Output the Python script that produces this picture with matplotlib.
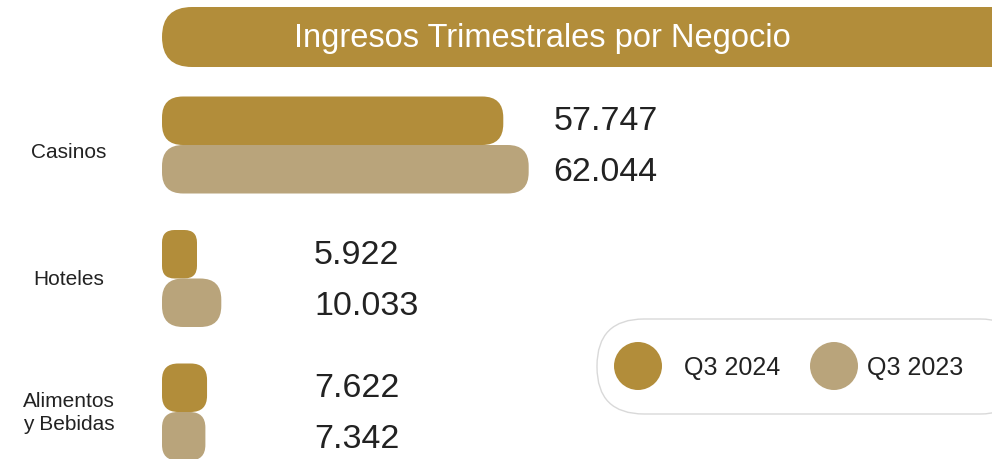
import matplotlib.pyplot as plt
from matplotlib.patches import FancyBboxPatch, Circle

# datos (miles)
categorias = ['Casinos', 'Hoteles', 'Alimentos\ny Bebidas']
q3_2024 = [57.747, 5.922, 7.622]
q3_2023 = [62.044, 10.033, 7.342]
etiquetas_2024 = ['57.747', '5.922', '7.622']
etiquetas_2023 = ['62.044', '10.033', '7.342']
series = ['Q3 2024', 'Q3 2023']

oro = '#B28D3A'
beige = '#B9A47B'
texto = '#222222'
plt.rcParams['font.family'] = ['Liberation Sans', 'DejaVu Sans']

W, H = 992, 460
fig = plt.figure(figsize=(W / 100, H / 100), dpi=100)

# capa de fondo en pixeles para titulo y leyenda
bg = fig.add_axes([0, 0, 1, 1])
bg.set_xlim(0, W)
bg.set_ylim(H, 0)
bg.axis('off')

bg.add_patch(FancyBboxPatch((162, 8), 860, 60, boxstyle='round,pad=0,rounding_size=30',
                            fc=oro, ec='none'))
bg.text(542, 38, 'Ingresos Trimestrales por Negocio', color='white', fontsize=23.5,
        ha='center', va='center')

bg.add_patch(FancyBboxPatch((597, 320), 430, 95, boxstyle='round,pad=0,rounding_size=47',
                            fc='white', ec='#D9D9D9', lw=1))
for cx, tx, col, lab in [(638, 684, oro, series[0]), (834, 867, beige, series[1])]:
    bg.add_patch(Circle((cx, 367), 24, fc=col, ec='none'))
    bg.text(tx, 368, lab, color=texto, fontsize=18, ha='left', va='center')

# barras
px_x = 5.91      # pixeles por unidad
px_y = 133.5     # pixeles entre grupos
x0, y0 = 162, 146
ax = fig.add_axes([0, 0, 1, 1], zorder=2)
ax.patch.set_alpha(0)
ax.set_xlim(-x0 / px_x, (W - x0) / px_x)
ax.set_ylim((H - y0) / px_y, -y0 / px_y)
ax.axis('off')

alto = 48.5 / px_y
aspect = px_x / px_y


def barra(v, y, color):
    r = min(21, v * px_x * 0.36) / px_x
    ax.add_patch(FancyBboxPatch((0, y), v, alto,
                                boxstyle=f'round,pad=0,rounding_size={r}',
                                mutation_aspect=aspect, fc=color, ec='none'))


ajuste_cat = [0.05, 0.0, 0.0]
for i, cat in enumerate(categorias):
    barra(q3_2024[i], i - alto, oro)
    barra(q3_2023[i], i, beige)
    lx = max(q3_2024[i], q3_2023[i], 21.5) + 4.2
    ax.text(lx, i - alto / 2, etiquetas_2024[i], fontsize=24.5, color=texto,
            ha='left', va='center')
    ax.text(lx, i + alto / 2 + 0.02, etiquetas_2023[i], fontsize=24.5, color=texto,
            ha='left', va='center')
    ax.text(-15.8, i + ajuste_cat[i], cat, fontsize=15, color=texto, ha='center',
            va='center', multialignment='center', linespacing=1.3)

fig.savefig('out.png', dpi=100)
